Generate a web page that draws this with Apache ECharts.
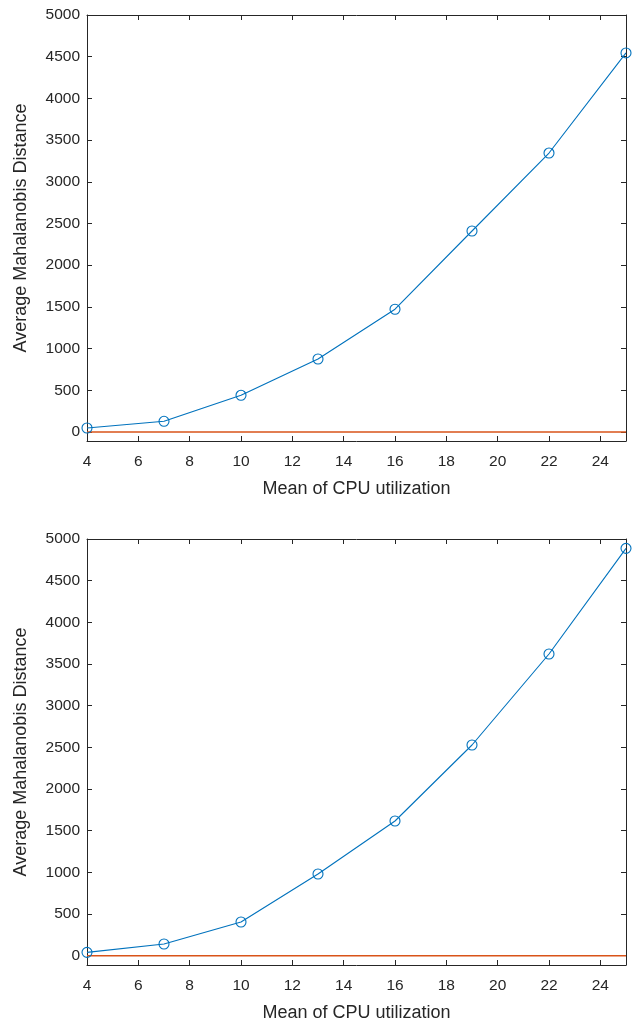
<!DOCTYPE html>
<html><head><meta charset="utf-8">
<script src="https://cdn.jsdelivr.net/npm/echarts@6/dist/echarts.min.js"></script>
<style>html,body{margin:0;padding:0;background:#fff}#c{width:633px;height:1024px}</style>
</head><body><div id="c"></div>
<script>
const xValues = [4, 7, 10, 13, 16, 19, 22, 25];
const topValues = [48, 128, 440, 875, 1472, 2410, 3345, 4545];
const bottomValues = [40, 140, 404, 980, 1616, 2528, 3620, 4888];
const thresholdTop = [[4, 0], [25, 0]];
const thresholdBottom = [[4, 0], [25, 0]];
const xTicks = [4, 6, 8, 10, 12, 14, 16, 18, 20, 22, 24];
const yTicks = [0, 500, 1000, 1500, 2000, 2500, 3000, 3500, 4000, 4500, 5000];
const xTitle = 'Mean of CPU utilization';
const yTitle = 'Average Mahalanobis Distance';

const BLUE = '#0072BD', ORANGE = '#D95319', AX = '#262626';
const FONT = '"Liberation Sans", Arial, sans-serif';

const grids = [
  {left: 87, right: 7, top: 15, height: 426},
  {left: 87, right: 7, top: 539, height: 426}
];
const xAxes = [], yAxes = [];
const yMins = [-108, -112];
grids.forEach((g, i) => {
  xAxes.push({
    type: 'value', gridIndex: i, min: 4, max: 25, position: 'bottom',
    name: xTitle, nameLocation: 'middle', nameGap: 39,
    nameTextStyle: {fontFamily: FONT, fontSize: 18, color: AX},
    axisLine: {show: true, onZero: false, lineStyle: {color: AX, width: 1}},
    axisTick: {show: true, inside: true, length: 5, customValues: xTicks, lineStyle: {color: AX}},
    axisLabel: {customValues: xTicks, fontFamily: FONT, fontSize: 15.5, color: AX, margin: 13,
      formatter: v => String(v)},
    splitLine: {show: false}
  });
  xAxes.push({
    type: 'value', gridIndex: i, min: 4, max: 25, position: 'top',
    axisLine: {show: true, onZero: false, lineStyle: {color: AX, width: 1}},
    axisTick: {show: true, inside: true, length: 5, customValues: xTicks, lineStyle: {color: AX}},
    axisLabel: {show: false}, splitLine: {show: false}
  });
  yAxes.push({
    type: 'value', gridIndex: i, min: yMins[i], max: 5000, position: 'left',
    name: yTitle, nameLocation: 'middle', nameGap: 57, nameRotate: 90,
    nameTextStyle: {fontFamily: FONT, fontSize: 18, color: AX},
    axisLine: {show: true, onZero: false, lineStyle: {color: AX, width: 1}},
    axisTick: {show: true, inside: true, length: 5, customValues: yTicks, lineStyle: {color: AX}},
    axisLabel: {customValues: yTicks, fontFamily: FONT, fontSize: 15.5, color: AX, margin: 7,
      formatter: v => String(v)},
    splitLine: {show: false}
  });
  yAxes.push({
    type: 'value', gridIndex: i, min: yMins[i], max: 5000, position: 'right',
    axisLine: {show: true, onZero: false, lineStyle: {color: AX, width: 1}},
    axisTick: {show: true, inside: true, length: 5, customValues: yTicks, lineStyle: {color: AX}},
    axisLabel: {show: false}, splitLine: {show: false}
  });
});

function blueSeries(vals, i) {
  return {
    type: 'line', xAxisIndex: i * 2, yAxisIndex: i * 2,
    data: xValues.map((x, k) => [x, vals[k]]),
    symbol: 'circle', symbolSize: 10, showSymbol: true,
    lineStyle: {color: BLUE, width: 1.1},
    itemStyle: {color: 'rgba(0,0,0,0)', borderColor: BLUE, borderWidth: 1.1},
    animation: false, z: 3, clip: false
  };
}
function orangeSeries(data, i) {
  return {
    type: 'line', xAxisIndex: i * 2, yAxisIndex: i * 2, data: data,
    symbol: 'none', lineStyle: {color: ORANGE, width: 1.5}, animation: false, z: 2
  };
}

const chart = echarts.init(document.getElementById('c'), null, {renderer: 'canvas'});
chart.setOption({
  backgroundColor: '#fff',
  animation: false,
  grid: grids,
  xAxis: xAxes,
  yAxis: yAxes,
  series: [
    orangeSeries(thresholdTop, 0), blueSeries(topValues, 0),
    orangeSeries(thresholdBottom, 1), blueSeries(bottomValues, 1)
  ]
});
</script></body></html>
